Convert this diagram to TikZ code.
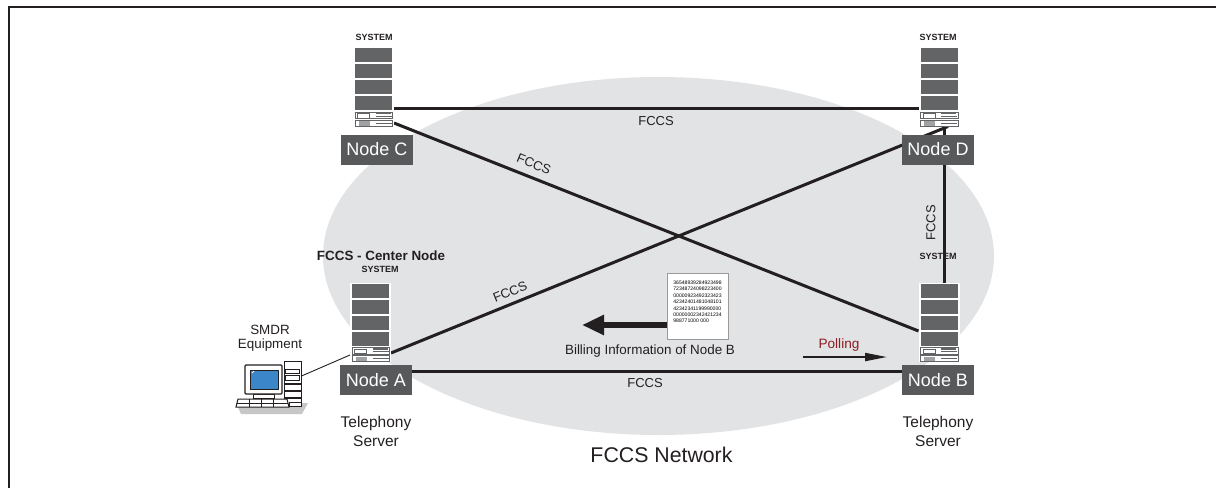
\documentclass[tikz,border=0pt]{standalone}
\usepackage{fontspec}
\setmainfont{Liberation Sans}
\usetikzlibrary{positioning,arrows.meta,backgrounds}
\definecolor{inkline}{HTML}{231F20}
\definecolor{netgray}{HTML}{E2E3E5}
\definecolor{labelgray}{HTML}{58595B}
\definecolor{rackgray}{HTML}{636466}
\definecolor{pollred}{HTML}{8E1C20}
\definecolor{screenblue}{HTML}{3A86C8}
\newcommand{\fsize}[1]{\fontsize{#1}{#1}\selectfont}
\tikzset{
  server/.style={rectangle,fill=white,minimum width=41pt,minimum height=79pt,inner sep=0pt,outer sep=0pt},
  nodetag/.style={rectangle,fill=labelgray,text=white,font=\fsize{18},minimum width=72pt,minimum height=30pt,inner sep=0pt,outer sep=0pt},
  systag/.style={font=\bfseries\fsize{9},text=inkline,inner sep=0pt},
  linktag/.style={font=\fsize{13},text=inkline,inner sep=0pt},
  plaintag/.style={font=\fsize{15.5},text=inkline,align=center,inner sep=0pt},
  link/.style={line width=3pt,inkline},
  rack/.pic={
    \foreach \ytop in {-39,-23,-7,9}
      \fill[rackgray] (-18.5,\ytop) rectangle (18.5,\ytop+14);
    \draw[rackgray,line width=.7pt] (-18.5,25) rectangle (19,31.5);
    \draw[rackgray,line width=.7pt] (-18.5,33) rectangle (19,39);
    \draw[rackgray,line width=.9pt] (-16,26.5) rectangle (-4,31);
    \fill[rackgray!60] (-15,34) rectangle (-4,38.5);
    \fill[rackgray] (2,25) rectangle (17,27);
    \draw[rackgray,line width=.8pt] (2,29) -- (18,29);
    \draw[rackgray,line width=.8pt] (2,36) -- (18,36);
  }
}
\begin{document}
\begin{tikzpicture}[x=1pt,y=-1pt]
  \useasboundingbox (0,0) rectangle (1216,488);

  % servers
  \node[server] (srvC) at (373.5,87) {};
  \node[server] (srvD) at (939,87) {};
  \node[server] (srvA) at (370.5,322.5) {};
  \node[server] (srvB) at (939,322.5) {};
  \foreach \srv in {srvA,srvB,srvC,srvD}
    \pic at (\srv) {rack};

  \node[nodetag,below=8pt of srvC,xshift=3.5pt] (tagC) {Node C};
  \node[nodetag,below=8pt of srvD,xshift=-1pt] (tagD) {Node D};
  \node[nodetag,below=3pt of srvA,xshift=5.5pt] (tagA) {Node A};
  \node[nodetag,below=3pt of srvB,xshift=-1pt] (tagB) {Node B};

  \node[systag] (sysC) at (374,37) {SYSTEM};
  \node[systag] (sysD) at (938,37) {SYSTEM};
  \node[systag] (sysA) at (380,269) {SYSTEM};
  \node[systag] (sysB) at (938,256) {SYSTEM};
  \node[font=\bfseries\fsize{13.4},text=inkline,inner sep=0pt] (center) at (381,256) {FCCS - Center Node};

  \node[plaintag,below=21pt of tagA,anchor=north] (telA) {Telephony\\[4pt]Server};
  \node[plaintag,below=21pt of tagB,anchor=north] (telB) {Telephony\\[4pt]Server};

  % link labels
  \node[linktag] (fccsTop) at (656,121) {FCCS};
  \node[linktag,rotate=-22] (fccsCB) at (534,164) {FCCS};
  \node[linktag,rotate=22] (fccsAD) at (510,292) {FCCS};
  \node[linktag] (fccsBot) at (645,383) {FCCS};
  \node[linktag,rotate=90] (fccsDB) at (931,223) {FCCS};

  \node[font=\fsize{21.3},text=inkline,inner sep=0pt] (net) at (661.5,455) {FCCS Network};

  % billing record
  \node[
  rectangle,
  draw=black!40,
  line width=1pt,
  fill=white,
  minimum width=61pt,
  minimum height=66pt,
  inner sep=0pt,
  align=left,
  font=\fsize{5.1}] (doc) at (697.5,306) {36548939284923498\\[1.3pt]72348724098223400\\[1.3pt]00000923492323423\\[1.3pt]42342401481048101\\[1.3pt]42342341199990000\\[1.3pt]00000002342421234\\[1.3pt]988771000 000\\[3pt]};
  \coordinate (billTip) at (582,325);
  \node[font=\fsize{13.4},text=inkline,inner sep=0pt] (bill) at (650,351) {Billing Information of Node B};
  \draw[-{Triangle[length=22pt,width=19pt]},line width=6pt,inkline] (doc.west |- billTip) -- (billTip);

  % polling
  \coordinate (pollFrom) at (803,357);
  \coordinate (pollTo) at (887,357);
  \node[font=\fsize{13.6},text=pollred,inner sep=0pt] (poll) at (839,345) {Polling};
  \draw[-{Triangle[length=22pt,width=8pt]},line width=2pt,inkline] (pollFrom)--(pollTo);

  % SMDR terminal
  \node[font=\fsize{13.4},text=inkline,align=center,inner sep=0pt] (smdr) at (270,338) {SMDR\\[1pt]Equipment};
  \fill[black!22] (236,403) -- (308,403) -- (302,414) -- (241,414) -- cycle;
  \node[rectangle,draw=inkline,line width=1pt,fill=white,minimum width=17pt,minimum height=44pt,inner sep=0pt] (pc) at (292.5,383) {};
  \draw[inkline,line width=1pt,fill=white] (285.5,369) rectangle (299,373.5);
  \draw[inkline,line width=1pt,fill=white] (285.5,375.5) rectangle (299,380);
  \foreach \ybar in {384,391,398}
    \draw[inkline,line width=1.4pt] (pc.west |- 0,\ybar) -- (pc.east |- 0,\ybar);
  \draw[inkline,line width=1pt,fill=white] (253,394) rectangle (274,398);
  \draw[inkline,line width=1.2pt,fill=white,rounded corners=1pt] (245,365) rectangle (282,394);
  \fill[screenblue] (250,370) rectangle (278,389);
  \draw[inkline,line width=.8pt] (250,370) rectangle (278,389);
  \draw[white,line width=1pt] (252,373) -- (254,371);
  \draw[inkline,line width=1pt,fill=white] (238,399) -- (287,399) -- (289,407) -- (236,407) -- cycle;
  \draw[inkline,line width=.6pt] (237,403) -- (288,403);
  \foreach \xkey in {249,261,273}
    \draw[inkline,line width=.6pt] (\xkey,399) -- (\xkey,407);
  \draw[inkline,line width=1pt,fill=white] (289,402) rectangle (301,406);

  % frame, network and links behind everything
  \begin{pgfonlayer}{background}
    \draw[inkline,line width=1.6pt] (9,488) -- (9,7);
    \draw[inkline,line width=2.4pt] (8.2,7) -- (1216,7);
    \fill[netgray] (658.5,256) ellipse [x radius=335.5, y radius=179];
    \draw[link] ([yshift=-21pt]srvC.east) -- ([yshift=-21pt]srvD.west);
    \draw[link] ([yshift=-36pt]srvC.east) -- ([yshift=-8.5pt]srvB.west);
    \draw[link] ([yshift=-30.5pt]srvA.east) -- ([xshift=9pt]srvD.south);
    \draw[link] ([yshift=9pt]tagA.east) -- ([yshift=9pt]tagB.west);
    \draw[link] ([xshift=5pt]srvD.south) -- ([xshift=5pt]srvB.north);
  \end{pgfonlayer}
  \draw[inkline,line width=.9pt] ([yshift=7pt]pc.east) -- ([yshift=-32.5pt]srvA.west);
\end{tikzpicture}
\end{document}
